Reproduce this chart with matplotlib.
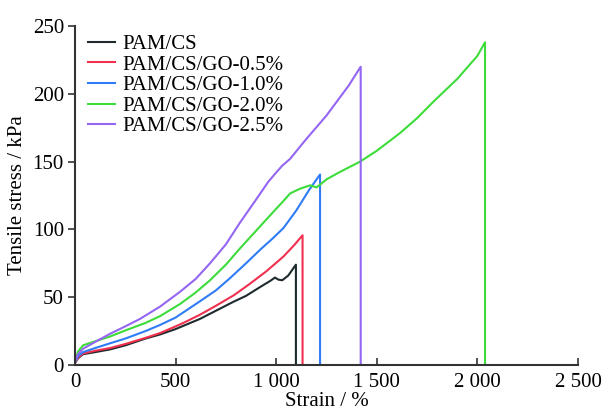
import matplotlib
matplotlib.use("Agg")
import matplotlib.pyplot as plt
import numpy as np

plt.rcParams['font.family'] = ['Liberation Serif', 'DejaVu Serif']

# strain (%) / stress (kPa), last point = fracture drop
cs_strain = [0, 15, 40, 100, 174, 250, 350, 422, 500, 621, 700, 787, 850, 920, 970, 994,
             1010, 1030, 1060, 1098, 1098]
cs_stress = [1.5, 5, 8, 9.5, 11.5, 14.5, 19.5, 22.5, 26.5, 34, 40, 46.6, 51, 57.5, 62, 64.5,
             63, 62.5, 66, 74, 0]

go05_strain = [0, 15, 40, 100, 174, 250, 350, 422, 500, 538, 620, 704, 790, 870, 950, 1036,
               1090, 1131, 1131]
go05_stress = [1.5, 5.5, 8.5, 10.5, 12.5, 15.5, 20, 23.5, 28.5, 31, 37, 44, 51.5, 60, 69, 80,
               88.5, 95.7, 0]

go10_strain = [0, 15, 40, 100, 174, 250, 350, 422, 500, 621, 700, 770, 850, 920, 980,
               1036, 1100, 1163, 1218, 1218]
go10_stress = [2, 6.5, 9.5, 12.5, 16, 19.5, 25, 29.5, 35, 47, 55, 64, 75, 85, 93,
               101, 114, 129, 140.5, 0]

go20_strain = [0, 15, 40, 100, 174, 250, 350, 422, 522, 600, 671, 750, 820, 900, 986,
               1030, 1069, 1118, 1168, 1201, 1251, 1317, 1417, 1500, 1615, 1700, 1780,
               1900, 2000, 2038, 2038]
go20_stress = [3, 10, 14.5, 17.5, 21, 25.5, 31, 36, 45, 53.5, 62.5, 74, 86, 99, 113,
               120, 126.5, 130, 132.5, 131, 137, 142.4, 150, 158, 171, 182, 194,
               211, 228, 238, 0]

go25_strain = [0, 15, 40, 100, 174, 250, 323, 422, 522, 600, 671, 750, 820, 900, 960, 1000,
               1030, 1069, 1143, 1250, 1300, 1360, 1420, 1420]
go25_stress = [3, 8, 12, 17, 23, 28.5, 34, 43, 54, 63.5, 75, 89, 105, 122, 135, 142,
               147, 152, 165.5, 184, 194, 206, 220, 0]

labels = ['PAM/CS', 'PAM/CS/GO-0.5%', 'PAM/CS/GO-1.0%', 'PAM/CS/GO-2.0%', 'PAM/CS/GO-2.5%']
colors = ['#1e2a2e', '#f0304f', '#2f7cf6', '#3ddc3a', '#9466f2']
xticks = [0, 500, 1000, 1500, 2000, 2500]
xtick_labels = ['0', '500', '1 000', '1 500', '2 000', '2 500']
yticks = [0, 50, 100, 150, 200, 250]

fig = plt.figure(figsize=(6.02, 4.13), dpi=100)
ax = fig.add_axes([0.1246, 0.1162, 0.8355, 0.8208])

series = [(cs_strain, cs_stress), (go05_strain, go05_stress), (go10_strain, go10_stress),
          (go20_strain, go20_stress), (go25_strain, go25_stress)]
for (x, y), lab, c in zip(series, labels, colors):
    ax.plot(x, y, color=c, lw=1.5, label=lab)

ax.set_xlim(0, 2500)
ax.set_ylim(0, 250)
ax.set_xticks(xticks)
ax.set_xticklabels(xtick_labels)
ax.set_yticks(yticks)
ax.set_yticklabels(['0', '50', '100', '150', '200', '250'])
ax.tick_params(axis='x', direction='in', length=5, width=1.2, labelsize=15, pad=6, colors='#333333', labelcolor='black')
ax.tick_params(axis='y', direction='out', length=5, width=1.2, labelsize=15, pad=3, colors='#333333', labelcolor='black')
for s in ['top', 'right']:
    ax.spines[s].set_visible(False)
for s in ['left', 'bottom']:
    ax.spines[s].set_linewidth(1.5)
    ax.spines[s].set_color('#333333')

ax.set_xlabel('Strain / %', fontsize=15, labelpad=0)
ax.set_ylabel('Tensile stress / kPa', fontsize=15, labelpad=4)

ax.legend(loc='upper left', bbox_to_anchor=(0.01, 1.0), frameon=False, fontsize=15,
          handlelength=1.3, handletextpad=0.35, labelspacing=0.05, borderaxespad=0.0)

fig.savefig('out.png', dpi=100)
